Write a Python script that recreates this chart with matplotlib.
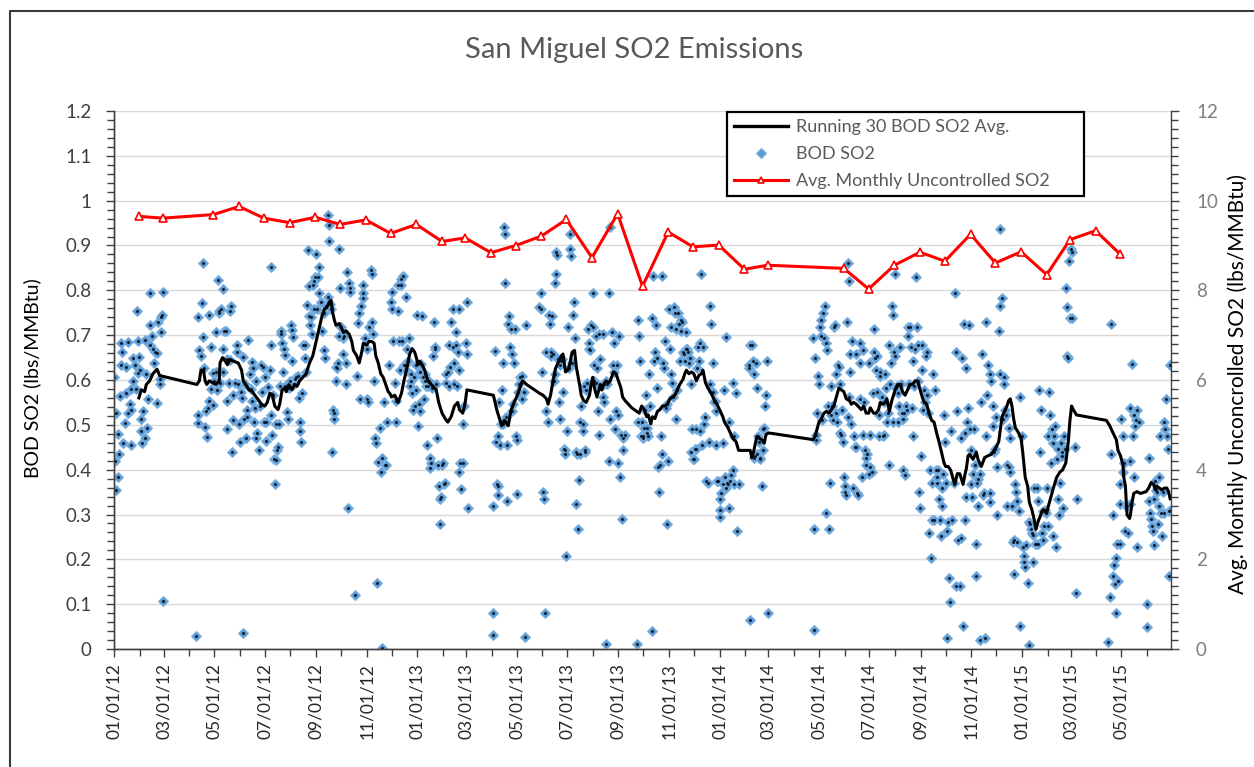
import numpy as np
import matplotlib
matplotlib.use("Agg")
import matplotlib.pyplot as plt
import matplotlib.dates as mdates
from matplotlib.ticker import MultipleLocator, FuncFormatter
from matplotlib.lines import Line2D

plt.rcParams['font.family'] = ['Lato', 'DejaVu Sans']

# ---------------- data ----------------
start_date = np.datetime64('2012-01-01')
x_end = np.datetime64('2015-06-30')

# BOD SO2 daily values: (days since 01/01/12, lbs/MMBtu)
bod_2012a = [(0,.606),(1,.420),(2,.355),(5,.384),(6,.436),(5,.480),(3,.526),(7,.565),(9,.634),(9,.682),(10,.662),(11,.459),
 (13,.504),(14,.570),(15,.628),(17,.684),(17,.526),(19,.546),(21,.455),(21,.534),(21,.580),(23,.598),(23,.648),(25,.634),
 (26,.580),(28,.754),(29,.616),(29,.687),(30,.652),(31,.622),(32,.486),(33,.514),(34,.459),(35,.530),(37,.690),(38,.470),
 (39,.614),(40,.494),(41,.558),(43,.678),(44,.793),(44,.722),(46,.698),(47,.670),(48,.638),(49,.662),(52,.549),(52,.660),
 (53,.730),(56,.590),(57,.706),(57,.740),(58,.746),(59,.797),(59,.106),(55,.602)]
bod_2012b = [(99,.028),(101,.740),(102,.522),(102,.504),(103,.667),(105,.654),(106,.772),(107,.860),(108,.696),(109,.626),
 (110,.496),(111,.530),(112,.472),(113,.538),(115,.746),(115,.554),(117,.674),(117,.580),(119,.616),(120,.544),(121,.598),
 (123,.618),(123,.706),(124,.578),(125,.823),(127,.750),(127,.754),(128,.594),(129,.758),(131,.804),(132,.670),(132,.618),
 (133,.710),(135,.710),(136,.646),(136,.490),(137,.554),(139,.594),(140,.644),(140,.754),(141,.766),(143,.440),(144,.566),
 (144,.510),(146,.594),(148,.662),(148,.678),(150,.590),(151,.502),(152,.462),(153,.574),(154,.560),(156,.036),(156,.652),
 (157,.514),(158,.590),(159,.470),(160,.534),(161,.517),(162,.690),(164,.614),(165,.580),(166,.554),(167,.640),(168,.626),
 (169,.506),(170,.538),(171,.598),(172,.470),(173,.482),(175,.443),(176,.541),(178,.634),(179,.573),(180,.628),(181,.506),
 (182,.606),(183,.464),(184,.506),(186,.584),(188,.622),(189,.678),(189,.853),(190,.522),(191,.478),(192,.566),(193,.423),
 (194,.368),(195,.502),(196,.421),(197,.443),(198,.451),(199,.502),(200,.586),(201,.710),(202,.702),(203,.682),(204,.618),
 (205,.670),(206,.656),(207,.586),(209,.528),(210,.514),(211,.582),(213,.598),(214,.722),(215,.711),(215,.642),(216,.695),
 (217,.590),(218,.602),(220,.606),(222,.610),(223,.560),(224,.506),(225,.486),(226,.462),(227,.570),(228,.678),(230,.678),
 (230,.650),(232,.618),(233,.767),(234,.889),(235,.809),(236,.742),(237,.722),(238,.740),(239,.702),(240,.813),(241,.758),
 (242,.821),(243,.829),(244,.881),(245,.758),(246,.829),(247,.853),(248,.793),(250,.774),(251,.710),(253,.666),(254,.750),
 (255,.650),(256,.766),(258,.969),(258,.786),(260,.945),(260,.909),(261,.770),(262,.758),(263,.439),(264,.534),(265,.514),
 (266,.526),(268,.598),(268,.630),(269,.626),(270,.638),(272,.698),(272,.893),(273,.805),(274,.719),(276,.694),(277,.658),
 (278,.698),(280,.590),(280,.638),(281,.841),(282,.315),(284,.817),(285,.805),(285,.797),(291,.120),(293,.610),(295,.727),
 (296,.750),(297,.557),(298,.766),(300,.783),(301,.813),(301,.793),(303,.694),(305,.557),(305,.670),(307,.550),(308,.718),
 (310,.845),(311,.837),(312,.730),(313,.702),(314,.598),(315,.470),(316,.459),(317,.148),(319,.416),(321,.494),(322,.395),
 (323,.427),(324,.002),(326,.550),(327,.411),(328,.411),(330,.506),(332,.634),(334,.774),(335,.758),(336,.797),(337,.686),
 (339,.594),(340,.554),(341,.506),(343,.813),(343,.754),(344,.686),(345,.622)]
bod_2013a = [(346,.825),(347,.813),(348,.686),(349,.831),(350,.634),(351,.634),(352,.622),(353,.785),(354,.670),(355,.642),
 (356,.694),(357,.586),(358,.614),(359,.598),(360,.570),(361,.534),(362,.606),(363,.542),(364,.634),(365,.578),(366,.746),
 (367,.498),(368,.546),(369,.530),(370,.618),(371,.636),(372,.742),(373,.606),(374,.558),(375,.614),(376,.598),(377,.586),
 (378,.455),(379,.586),(380,.598),(381,.427),(382,.403),(383,.415),(384,.582),(385,.654),(386,.730),(387,.670),(388,.674),
 (389,.590),(390,.470),(391,.411),(392,.363),(393,.335),(393,.279),(395,.339),(396,.411),(397,.415),(398,.367),(399,.371),
 (401,.594),(401,.614),(403,.618),(405,.678),(405,.586),(406,.630),(407,.730),(409,.758),(409,.674),(410,.638),(411,.590),
 (413,.678),(413,.708),(414,.586),(415,.662),(417,.758),(417,.622),(417,.395),(418,.415),(419,.357),(421,.502),(421,.415),
 (423,.542),(425,.682),(426,.658),(426,.774),(427,.315)]
bod_2013b = [(458,.319),(458,.080),(458,.032),(460,.664),(461,.462),(462,.368),(463,.344),(464,.363),(464,.474),(465,.550),
 (466,.456),(467,.501),(468,.578),(469,.638),(470,.502),(471,.941),(472,.925),(472,.817),(473,.518),(474,.331),(475,.455),
 (476,.724),(477,.742),(478,.674),(479,.714),(480,.658),(481,.530),(482,.546),(483,.638),(484,.714),(485,.474),(486,.346),
 (487,.466),(488,.574),(489,.590),(490,.606),(492,.558),(493,.610),(495,.574),(496,.026),(497,.722),
 (513,.762),(515,.793),(516,.758),(517,.618),(518,.351),(519,.335),(520,.081),(521,.530),(522,.662),(524,.506),(525,.746),
 (526,.726),(527,.654),(528,.662),(529,.742),(530,.658),(531,.598),(532,.614),(532,.817),(533,.837),(534,.885),(535,.879),
 (536,.646),(537,.550),(538,.514),(539,.634),(540,.642),(541,.646),(542,.574),(543,.447),(544,.443),(545,.434),(546,.207),
 (547,.486),(548,.718),(549,.626),(550,.893),(551,.925),(552,.877),(553,.638),(554,.746),(555,.774),(556,.694),(558,.439),
 (558,.323),(559,.434),(560,.267),(561,.376),(562,.434),(563,.506),(564,.542),(566,.486),(566,.502),(567,.586),(568,.439),
 (569,.443),(570,.578),(571,.594),(572,.714),(574,.682),(574,.670),(575,.666),(576,.722),(578,.718),(578,.793),(579,.598),
 (580,.634),(582,.698),(582,.594),(583,.626),(584,.530),(586,.478),(586,.702),(587,.646),(588,.586),(590,.562),(590,.702),
 (591,.550),(592,.590),(594,.012),(594,.598),(595,.590),(597,.419),(598,.793),(599,.514),(599,.941),(601,.706),(602,.634),
 (603,.682),(604,.618),(605,.490),(606,.530),(607,.634),(608,.522),(609,.415),(610,.698),(611,.383),(612,.478),(613,.291),
 (614,.443),(615,.470),(617,.478)]
bod_2013c = [(631,.012),(632,.506),(633,.734),(634,.698),(635,.642),(636,.474),(637,.506),(638,.470),(639,.474),(640,.494),
 (641,.534),(642,.566),(643,.482),(644,.494),(645,.474),(646,.614),(647,.542),(649,.040),(650,.738),(651,.833),(652,.642),
 (653,.662),(654,.722),(655,.650),(656,.582),(657,.407),(658,.351),(659,.411),(660,.474),(661,.434),(662,.833),(663,.638),
 (664,.626),(665,.686),(666,.538),(667,.546),(668,.279),(669,.419),(670,.758),(671,.670),(672,.718),(673,.614),(674,.594),
 (675,.562),(676,.762),(677,.750),(678,.514),(679,.714),(680,.578),(681,.750),(682,.726),
 (683,.642),(684,.710),(685,.734),(686,.730),(687,.662),(688,.658),(689,.642),(690,.706),(691,.670),(692,.670),(693,.662),
 (694,.638),(695,.650),(696,.590),(697,.439),(698,.490),(699,.423),(700,.423),(701,.447),(702,.490),(703,.447),(704,.626),
 (705,.674),(706,.642),(707,.486),(708,.682),(709,.837),(710,.455),(711,.674),(712,.502),(713,.518),(714,.518),(715,.375),
 (717,.371),(718,.462),(719,.766),(720,.590),(721,.726),(723,.638),(723,.574),(724,.550),(725,.554),(727,.530),(727,.455),
 (728,.375),(729,.375),(731,.335),(731,.311),(732,.295),(733,.347),(735,.459),(735,.367),(736,.578),(737,.383),(739,.695),
 (739,.359),(740,.371),(741,.367),(743,.506),(743,.315),(744,.375),(745,.387),(747,.399),(747,.594),(748,.474),(749,.367),
 (751,.570),(752,.263),(754,.367)]
bod_2014a = [(766,.626),(767,.634),(768,.064),(768,.678),(770,.678),(771,.642),(772,.427),(772,.614),(774,.431),(775,.638),
 (776,.582),(776,.434),(778,.474),(779,.462),(780,.427),(780,.423),(782,.363),(783,.443),(784,.490),(785,.494),(786,.542),
 (787,.566),(788,.642),(789,.080)]
bod_2014b = [(844,.694),(845,.267),(845,.042),(846,.650),(847,.467),(848,.478),(849,.526),(850,.610),(851,.590),(852,.718),
 (853,.698),(854,.734),(855,.510),(856,.750),(857,.694),(858,.766),(859,.682),(860,.303),(861,.666),(862,.542),(863,.267),
 (864,.371),(865,.522),(866,.586),(867,.542),(868,.510),(869,.718),(870,.722),(871,.526),(872,.614),(873,.506),(874,.634),
 (875,.630),(876,.590),(877,.482),(878,.478),(879,.534),(880,.462),(881,.383),(882,.351),(883,.363),(884,.343),(885,.730),
 (886,.518),(886,.861),(887,.821),(887,.562),(888,.618),(889,.658),(890,.502),(891,.686),(892,.359),(893,.474),(894,.451),
 (896,.658),(896,.451),(897,.347),(898,.343),(900,.682),(900,.638),(901,.558),(903,.383),(904,.478),(904,.666),(905,.550),
 (907,.443),(908,.411),(908,.427),(909,.434),(911,.638),(912,.391),(913,.478),(913,.407),(915,.395),(916,.570),(917,.662),
 (917,.714),(919,.650),(920,.622),(921,.654),(921,.574),(923,.522),(924,.474),(925,.618),(925,.610),(927,.562),(928,.474),
 (929,.478),(929,.550),(931,.614),(932,.582),(933,.506),(934,.526),(935,.411),(936,.678),(937,.590),(938,.638),(939,.766),
 (940,.746),(941,.506),(942,.662),(943,.654),(943,.837),(944,.582),(945,.586),(946,.570),(947,.506),(948,.542),(949,.674),
 (950,.590),(951,.526),(952,.399),(953,.514),(954,.526),(955,.387),(956,.542),(957,.534),(958,.718),(959,.698),(960,.590),
 (961,.718),(962,.674),(963,.538),(964,.642),(965,.474),(966,.586),(967,.670),(968,.829),(969,.718),(970,.678),(971,.598),
 (972,.351),(973,.315),(974,.431),(975,.622),(976,.678),(977,.534),(978,.578),(979,.550),(980,.654),(981,.662),(982,.566),
 (983,.526),(984,.259),(985,.399),(986,.203),(987,.287),(988,.371),(989,.614),(990,.287),(991,.578),(992,.399),(993,.371),
 (994,.383),(995,.399),(996,.335),(997,.287),(998,.251),(999,.319),(1000,.359),(1001,.391),(1002,.522),(1003,.462),
 (1004,.371),(1005,.024),(1006,.263),(1007,.283),(1008,.159),(1009,.104),(1011,.486),(1012,.287),(1014,.371),(1015,.793),
 (1016,.662),(1017,.140),(1018,.530),(1019,.243)]
bod_2014c = [(1021,.140),(1022,.247),(1023,.470),(1024,.650),(1025,.052),(1026,.726),(1027,.287),(1027,.482),(1028,.626),
 (1029,.339),(1030,.506),(1031,.538),(1032,.722),(1033,.490),(1034,.367),(1035,.443),(1036,.339),(1037,.391),(1038,.490),
 (1039,.411),(1040,.235),(1041,.163),(1042,.371),(1043,.379),(1043,.319),(1045,.020),(1046,.391),(1047,.550),(1048,.658),
 (1049,.343),(1050,.347),(1051,.024),(1053,.474),(1053,.730),(1054,.566),(1055,.634),(1057,.347),(1057,.327),(1058,.614),
 (1059,.598),(1061,.542),(1061,.498),(1062,.439),(1064,.447),(1065,.518),(1066,.407),(1066,.299),(1068,.710),(1069,.766),
 (1069,.937),(1070,.614),(1072,.782),(1073,.514),(1074,.606),(1074,.590),(1076,.534),(1077,.522),(1078,.411),(1078,.319),
 (1080,.494),(1081,.407),(1082,.470),(1082,.395),(1084,.319),(1085,.239),(1086,.167),(1086,.243),(1088,.367),(1089,.351),
 (1090,.239),(1090,.331),(1092,.307),(1094,.052),(1094,.562),(1096,.474),(1097,.227),(1098,.207),(1098,.195),(1100,.183),
 (1101,.231),(1103,.148),(1104,.283),(1105,.008),(1106,.279),(1107,.267),(1108,.259),(1109,.195),(1110,.255),(1111,.359),
 (1112,.235),(1113,.235),(1114,.359),(1115,.331),(1116,.235),(1117,.578),(1118,.439),(1119,.534),(1120,.259),(1121,.307),
 (1122,.243),(1123,.275),(1124,.311),(1125,.303),(1126,.359),(1127,.275),(1128,.474),(1129,.574),(1130,.522),(1131,.415),
 (1132,.490),(1133,.459),(1134,.251),(1135,.474),(1136,.498),(1137,.227),(1138,.423),(1139,.447),(1140,.335),(1141,.299),
 (1142,.371),(1143,.459),(1144,.439),(1145,.431),(1146,.315),(1147,.474),(1148,.447),(1149,.805),(1150,.762),(1151,.654),
 (1152,.650),(1153,.865),(1154,.738),(1155,.893),(1156,.885),(1157,.738),(1160,.451),(1161,.124),(1162,.335)]
bod_2015 = [(1200,.016),(1202,.116),(1203,.726),(1204,.434),(1206,.299),(1206,.163),(1207,.187),(1208,.144),(1210,.080),
 (1210,.203),(1211,.235),(1212,.151),(1214,.235),(1214,.367),(1215,.323),(1216,.514),(1218,.474),(1218,.395),(1219,.415),
 (1220,.263),(1222,.319),(1223,.319),(1224,.259),(1226,.419),(1227,.323),(1227,.538),(1229,.636),(1230,.474),(1231,.522),
 (1231,.383),(1233,.498),(1234,.510),(1235,.534),(1235,.227),(1237,.506),(1247,.100),(1247,.048),(1249,.427),(1250,.331),
 (1251,.303),(1252,.291),(1253,.275),(1254,.263),(1255,.231),(1256,.335),(1257,.375),(1258,.355),(1259,.351),(1260,.279),
 (1261,.383),(1262,.319),(1263,.474),(1264,.303),(1265,.251),(1266,.351),(1267,.303),(1268,.506),(1269,.490),(1270,.558),
 (1271,.474),(1272,.447),(1273,.163),(1274,.307),(1275,.634),(1276,.311)]

# Running 30 BOD SO2 average (days since 01/01/12, lbs/MMBtu)
avg_day = [30,33,37,39,43,47,52,55,100,103,105,108,110,112,115,119,123,127,128,131,133,137,140,144,150,154,156,159,163,
 167,170,175,178,182,185,188,191,194,198,200,203,206,208,211,215,218,221,224,228,232,236,240,244,248,251,254,257,260,262,
 264,266,268,272,274,277,280,284,287,289,293,296,299,301,305,308,311,314,316,319,322,325,328,331,
 333,335,339,343,347,350,353,357,360,363,365,367,369,372,375,379,383,389,392,396,401,403,407,411,415,417,421,424,426,
 458,462,466,468,471,473,476,479,482,486,490,493,496,498,514,518,522,524,527,530,533,536,540,542,545,548,550,553,556,558,
 562,564,567,570,574,576,578,580,583,587,589,591,594,597,599,603,606,609,612,614,617,621,625,631,634,637,640,643,645,648,
 650,653,656,659,662,665,668,671,674,677,680,683,687,689,691,694,697,700,703,706,709,711,714,717,721,725,728,731,735,737,
 741,744,747,751,754,762,768,770,772,776,779,782,785,787,790,844,846,848,851,854,857,860,863,866,869,872,875,878,881,884,
 888,890,893,896,900,902,905,908,911,913,917,920,923,925,928,931,933,936,939,943,946,949,952,955,958,961,964,967,970,972,
 975,978,981,984,987,990,993,996,999,1002,1004,1007,1010,1013,1015,1018,1021,1023,1025,1027,1029,1031,1033,1037,1041,
 1043,1047,1051,1055,1059,1064,1068,1070,1072,1074,1078,1080,1082,1084,1086,1088,1092,1095,1097,1100,1103,1105,1108,1111,
 1113,1116,1118,1120,1122,1126,1128,1131,1134,1138,1142,1145,1147,1149,1152,1154,1156,1158,1162,1198,1202,1206,1210,1212,
 1215,1218,1219,1221,1222,1223,1226,1227,1229,1231,1235,1239,1246,1249,1252,1255,1257,1259,1262,1265,1268,1271,1273,1275]
avg_val = [.560,.578,.574,.590,.598,.614,.624,.610,.590,.598,.622,.622,.598,.590,.598,.594,.590,.598,.638,.650,.646,.634,
 .646,.642,.638,.622,.598,.590,.578,.574,.566,.554,.546,.542,.550,.570,.568,.542,.534,.546,.578,.582,.574,.590,.578,.590,
 .586,.598,.606,.614,.638,.654,.686,.718,.742,.758,.762,.774,.778,.750,.734,.722,.726,.718,.706,.710,.702,.686,.666,.654,
 .638,.662,.682,.678,.686,.686,.682,.654,.638,.614,.606,.590,.574,
 .570,.562,.566,.550,.570,.598,.622,.658,.670,.662,.650,.634,.642,.634,.622,.598,.590,.578,.550,.526,.510,.506,.518,.542,
 .550,.534,.526,.550,.578,.566,.534,.510,.498,.510,.506,.498,.530,.546,.562,.582,.598,.594,.590,.570,.566,.558,.546,.566,
 .598,.626,.638,.654,.658,.618,.622,.634,.662,.666,.630,.590,.566,.554,.550,.566,.590,.606,.582,.562,.590,.578,.590,.598,
 .594,.598,.618,.614,.598,.582,.562,.554,.546,.538,.530,.526,.542,.534,.518,.522,.502,.518,.514,.530,.534,.542,.542,.546,
 .558,.562,.566,.578,.590,.602,.614,.622,.614,.618,.614,.598,.610,.614,.622,.594,.582,.570,.554,.546,.534,.518,.506,.494,
 .482,.470,.462,.443,.443,.443,.427,.439,.474,.470,.467,.459,.478,.482,.467,.474,.486,.506,.514,.526,.530,.526,.534,.542,
 .562,.582,.578,.574,.558,.554,.546,.550,.546,.538,.534,.542,.526,.526,.538,.526,.526,.534,.550,.546,.550,.558,.530,.554,
 .578,.590,.590,.574,.566,.578,.590,.590,.598,.598,.586,.566,.550,.546,.526,.510,.506,.482,.462,.439,.415,.407,.407,.399,
 .379,.367,.391,.391,.379,.367,.387,.403,.431,.434,.423,.439,.423,.407,.427,.431,.434,.447,.462,.490,.518,.526,.542,.554,
 .558,.542,.514,.494,.482,.470,.439,.383,.363,.327,.311,.287,.267,.287,.295,.307,.311,.303,.319,.339,.359,.383,.395,.399,
 .407,.415,.462,.510,.542,.534,.522,.510,.498,.482,.467,.443,.431,.411,.383,.363,.327,.299,.291,.299,.327,.347,.351,.347,
 .351,.359,.371,.367,.355,.363,.359,.355,.359,.359,.351,.335]

# Avg. monthly uncontrolled SO2 (plotted at month end, lbs/MMBtu, right axis)
month_end = ['2012-01-31','2012-02-29','2012-04-30','2012-05-31','2012-06-30','2012-07-31','2012-08-31','2012-09-30',
 '2012-10-31','2012-11-30','2012-12-31','2013-01-31','2013-02-28','2013-03-31','2013-04-30','2013-05-31','2013-06-30',
 '2013-07-31','2013-08-31','2013-09-30','2013-10-31','2013-11-30','2013-12-31','2014-01-31','2014-02-28','2014-05-31',
 '2014-06-30','2014-07-31','2014-08-31','2014-09-30','2014-10-31','2014-11-30','2014-12-31','2015-01-31','2015-02-28',
 '2015-03-31','2015-04-30']
monthly_val = [9.65,9.61,9.69,9.87,9.61,9.51,9.63,9.47,9.57,9.27,9.47,9.09,9.17,8.84,9.00,9.21,9.58,8.73,9.71,8.09,9.30,
 8.97,9.01,8.47,8.56,8.49,8.03,8.56,8.85,8.65,9.25,8.61,8.86,8.35,9.13,9.33,8.80]

# ---------------- figure ----------------
W, H = 1254, 767
fig = plt.figure(figsize=(W/100, H/100), dpi=100)
ax = fig.add_axes([114/W, 1-649/H, (1171-114)/W, (649-111)/H])
ax2 = ax.twinx()

bod_all = bod_2012a + bod_2012b + bod_2013a + bod_2013b + bod_2013c + bod_2014a + bod_2014b + bod_2014c + bod_2015
bod_x = start_date + np.array([d for d, v in bod_all], dtype='timedelta64[D]')
bod_y = np.array([v for d, v in bod_all])
avg_x = start_date + np.array(avg_day, dtype='timedelta64[D]')
mon_x = np.array(month_end, dtype='datetime64[D]')

blue = '#5B9BD5'
ax.plot(bod_x, bod_y, linestyle='none', marker='D', ms=5.0, mfc=blue, mec='#7FB2E0', mew=0.8, zorder=3)
ax.plot(bod_x, bod_y, linestyle='none', marker='o', ms=2.1, mfc='#0a1420', mec='none', zorder=3.1)
ax.plot(avg_x, avg_val, color='black', lw=2.2, zorder=4)
ax2.plot(mon_x, monthly_val, color='#FF0000', lw=2.2, marker='^', ms=6, mfc='white', mec='#FF0000', mew=1.2, zorder=5)

# axes formatting
ax.set_xlim(start_date, x_end)
ax.set_ylim(0, 1.2)
ax2.set_ylim(0, 12)
ax.yaxis.set_major_locator(MultipleLocator(0.1))
ax.yaxis.set_minor_locator(MultipleLocator(0.02))
ax.yaxis.set_major_formatter(FuncFormatter(lambda v, p: ('%g' % round(v, 2))))
ax2.yaxis.set_major_locator(MultipleLocator(2))
ax2.yaxis.set_minor_locator(MultipleLocator(0.2))
ax.xaxis.set_major_locator(mdates.MonthLocator(bymonth=[1, 3, 5, 7, 9, 11]))
ax.xaxis.set_minor_locator(mdates.MonthLocator())
ax.xaxis.set_major_formatter(mdates.DateFormatter('%m/%d/%y'))

ax.set_axisbelow(True)
ax.grid(axis='y', which='major', color='#D9D9D9', lw=1.0)
spc = '#404040'
for a in (ax, ax2):
    a.spines['top'].set_visible(False)
    for s in ('left', 'right', 'bottom'):
        a.spines[s].set_color(spc)
        a.spines[s].set_linewidth(1.0)
ax.spines['right'].set_visible(False)

ax.tick_params(axis='both', which='both', direction='out', color=spc, width=1.0)
ax.tick_params(axis='both', which='major', length=6)
ax.tick_params(axis='both', which='minor', length=5)
ax.tick_params(axis='y', labelsize=13.5, labelcolor='#404040', pad=10)
ax.tick_params(axis='x', labelsize=12.5, labelcolor='#262626', rotation=90, pad=4)
ax2.tick_params(axis='y', which='both', direction='out', color=spc, width=1.0)
ax2.tick_params(axis='y', which='major', length=6, labelsize=13.5, labelcolor='#7F7F7F', pad=12)
ax2.tick_params(axis='y', which='minor', length=5)

# texts
fig.text(634/W, 1-50/H, 'San Miguel SO2 Emissions', ha='center', va='center', fontsize=21, color='#595959')
fig.text(32/W, 1-378/H, 'BOD SO2 (lbs/MMBtu)', rotation=90, ha='center', va='center', fontsize=14, color='black')
fig.text(1238/W, 1-384/H, 'Avg. Monthly Unconcrolled SO2 (lbs/MMBtu)', rotation=90, ha='center', va='center',
         fontsize=15, color='black')

# legend
handles = [Line2D([], [], color='black', lw=2.4),
           Line2D([], [], linestyle='none', marker='D', ms=5.0, mfc=blue, mec='#7FB2E0', mew=0.8),
           Line2D([], [], color='#FF0000', lw=2.2, marker='^', ms=5, mfc='white', mec='#FF0000', mew=1.2)]
labels = ['Running 30 BOD SO2 Avg.', 'BOD SO2', 'Avg. Monthly Uncontrolled SO2']
leg = ax2.legend(handles, labels, loc='upper left', mode='expand',
                 bbox_to_anchor=(727/W, 1-198/H, 357/W, 86/H), bbox_transform=fig.transFigure,
                 fontsize=13, frameon=True, fancybox=False, edgecolor='black', framealpha=1,
                 handlelength=3.0, borderpad=0.4, labelspacing=0.6, handletextpad=0.4, borderaxespad=0)
leg.get_frame().set_linewidth(1.6)
for t in leg.get_texts():
    t.set_color('#595959')

# chart border (left and top edges visible)
fig.add_artist(Line2D([10/W, 10/W, 1.0], [0.0, 1-11/H, 1-11/H], transform=fig.transFigure, color='#3a3a3a', lw=1.5))

fig.savefig('out.png', dpi=100)
